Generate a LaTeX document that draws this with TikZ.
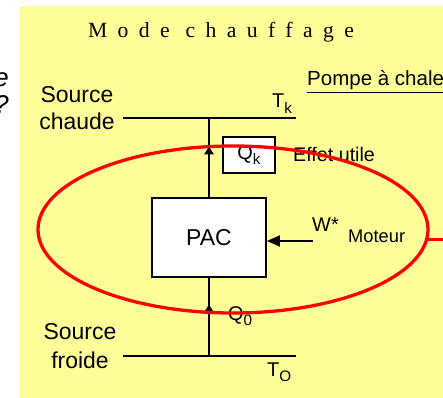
\documentclass[tikz,border=0pt]{standalone}
\usepackage{fontspec}
\setmainfont{Liberation Sans}
\newfontfamily\titlefont[LetterSpace=48]{Liberation Serif}
\usetikzlibrary{positioning,arrows.meta,shapes.geometric,decorations.markings}
\definecolor{bgYellow}{HTML}{FFFF99}
\definecolor{loopRed}{HTML}{FF0000}
\newcommand\subidx[1]{\raisebox{-5pt}{\fontsize{13}{13}\selectfont #1}}

\begin{document}
\begin{tikzpicture}[x=0.03cm, y=-0.03cm,
  every node/.style={inner sep=0pt, font=\fontsize{17}{19}\selectfont},
  big/.style={font=\fontsize{19.6}{19.6}\selectfont},
  small/.style={font=\fontsize{15.6}{17}\selectfont},
  block/.style={rectangle, draw=black, line width=1.5pt, fill=white},
  wire/.style={line width=1.6pt},
  upmark/.style={postaction={decorate}, decoration={markings,
      mark=at position #1 with {\arrow{Triangle[length=0.24cm, width=0.28cm]}}}},
  pushin/.style={-{Triangle[length=0.39cm, width=0.33cm]}, line width=1.6pt},
  redloop/.style={ellipse, draw=loopRed, line width=2.8pt, inner sep=0pt,
      minimum width=11.7cm, minimum height=5.01cm}
]
  \useasboundingbox (0,0) rectangle (443,398);
  \fill[bgYellow] (19,6) rectangle (450,405);
  % cut-off text on the left border
  \node[anchor=base east, font=\fontsize{22}{22}\selectfont\itshape] (cute) at (9,87) {e};
  \node[anchor=base east, font=\fontsize{22}{22}\selectfont\itshape] (cutq) at (9,114) {?};

  \node[anchor=base, font=\fontsize{18.5}{18.5}\selectfont\titlefont] (title) at (221,38) {Mode chauffage};
  \node[anchor=base west, font=\fontsize{17.5}{19}\selectfont] (pompe) at (307,86) {\underline{Pompe à chaleur}};

  % sources
  \coordinate (hotL) at (123,118);  \coordinate (hotR) at (296,118);
  \coordinate (coldL) at (123,356); \coordinate (coldR) at (296,356);
  \draw[wire] (hotL) -- (hotR);
  \draw[wire] (coldL) -- (coldR);
  \node[big, align=center, anchor=base, font=\fontsize{19.6}{23.5}\selectfont] (hot) at (77,130) {Source\\chaude};
  \node[big, align=center, anchor=base, font=\fontsize{19.6}{24}\selectfont] (cold) at (80,368) {Source\\froide};
  \node[anchor=base west] (tk) at (272,108) {T\subidx{k}};
  \node[anchor=base west] (to) at (267,376) {T\subidx{O}};

  % machine
  \node[block, big, minimum width=3.42cm, minimum height=2.37cm] (pac) at (209,237.5) {PAC};
  \node[block, minimum width=1.56cm, minimum height=1.08cm] (qk) at (249,155) {Q\subidx{k}};
  \node[anchor=base west, font=\fontsize{16.8}{18}\selectfont] (effet) at (293,162) {Effet utile};
  \draw[wire, upmark=0.64] (pac.north) -- (pac.north |- hotL);
  \draw[wire, upmark=0.66] (pac.south |- coldL) -- (pac.south);
  \node[anchor=base west] (qo) at (228,320) {Q\subidx{0}};

  % drive
  \coordinate (wstart) at (313,241);
  \draw[pushin] (wstart) -- (pac.east |- wstart);
  \node[anchor=base west] (w) at (312,232) {W*};
  \node[small, anchor=base west] (moteur) at (348,243) {Moteur};

  % loop
  \node[redloop] (loop) at (233,229.5) {};
  \coordinate (edge) at (450,234);
  \draw[loopRed, line width=2.8pt] (loop.-3) -- (loop.-3 -| edge);
\end{tikzpicture}
\end{document}
